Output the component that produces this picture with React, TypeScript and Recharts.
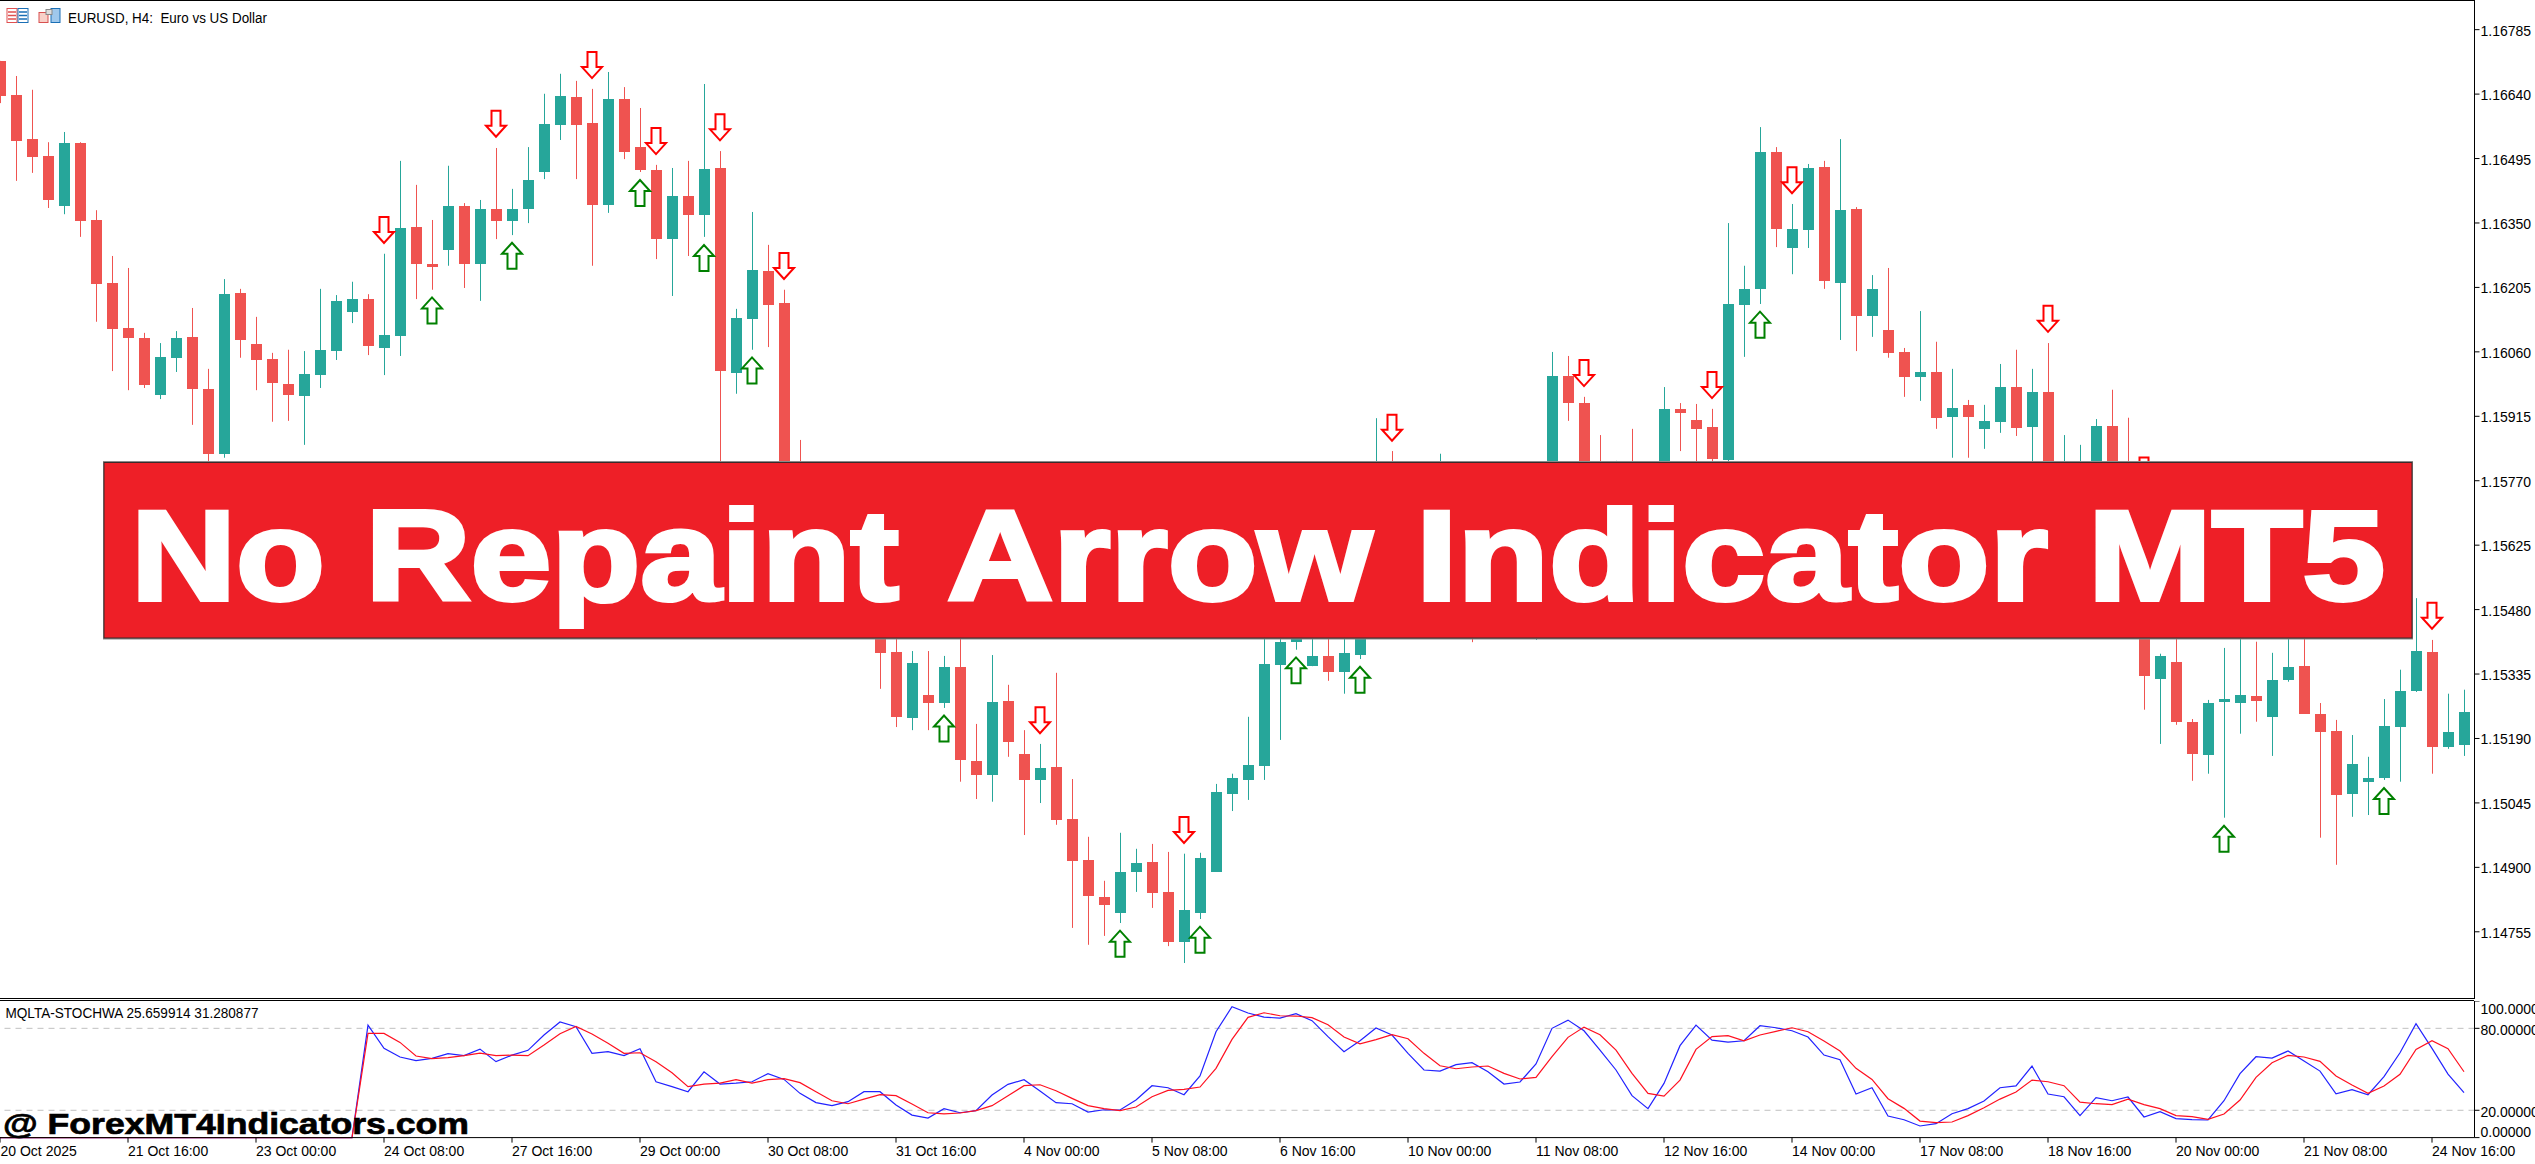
import { ComposedChart, Bar, Line, XAxis, YAxis, ReferenceLine } from "recharts";

const FONT = "'Liberation Sans', Arial, sans-serif";
const UP = "#26A69A";
const DOWN = "#EF5350";

// EURUSD H4 candles (those behind the banner are estimates)
const opens = [
  1.16717, 1.1664, 1.16541, 1.16503, 1.1639, 1.16532, 1.16359, 1.16217, 1.16116, 1.16094,
  1.15965, 1.16049, 1.16096, 1.15979, 1.15833, 1.16195, 1.1608, 1.16046, 1.1599, 1.15963,
  1.1601, 1.16064, 1.16152, 1.16181, 1.16071, 1.16098, 1.16343, 1.1626, 1.16291, 1.1639,
  1.1626, 1.16384, 1.16357, 1.16384, 1.16467, 1.16573, 1.16636, 1.16577, 1.16393, 1.16631,
  1.16523, 1.16472, 1.16316, 1.16413, 1.1637, 1.16476, 1.16015, 1.16136, 1.16244, 1.16172,
  1.15654, 1.1556, 1.1561, 1.1552, 1.1547, 1.155, 1.15387, 1.15239, 1.1529, 1.15272,
  1.15353, 1.15142, 1.1511, 1.15277, 1.15158, 1.15099, 1.15128, 1.15011, 1.14919, 1.14836,
  1.148, 1.14892, 1.14915, 1.14847, 1.14735, 1.148, 1.14892, 1.15068, 1.15099, 1.15131,
  1.15358, 1.1541, 1.15355, 1.15378, 1.15342, 1.1538, 1.1547, 1.157, 1.1563, 1.1556,
  1.156, 1.1565, 1.1564, 1.1552, 1.1559, 1.1565, 1.1548, 1.1562, 1.16008, 1.15947,
  1.1571, 1.1565, 1.1574, 1.1568, 1.1575, 1.15934, 1.15909, 1.15893, 1.15819, 1.16168,
  1.16204, 1.16512, 1.16296, 1.16337, 1.16478, 1.16217, 1.16384, 1.16143, 1.16112, 1.16062,
  1.16006, 1.16017, 1.15916, 1.15943, 1.15889, 1.15904, 1.15983, 1.15893, 1.15972, 1.1568,
  1.1565, 1.1564, 1.15896, 1.1564, 1.1556, 1.15326, 1.15365, 1.1523, 1.15155, 1.15275,
  1.15272, 1.15288, 1.15241, 1.15324, 1.15356, 1.15248, 1.15209, 1.15068, 1.15095, 1.15104,
  1.15218, 1.15299, 1.15387, 1.15173, 1.15178,
];
const highs = [
  1.16717, 1.16683, 1.16652, 1.16534, 1.16557, 1.16534, 1.16381, 1.16278, 1.16251, 1.16105,
  1.16082, 1.16109, 1.16161, 1.16024, 1.16226, 1.16204, 1.16141, 1.1606, 1.16067, 1.16064,
  1.16204, 1.1619, 1.1622, 1.16192, 1.16283, 1.16492, 1.16438, 1.16359, 1.16481, 1.16397,
  1.16404, 1.16521, 1.16429, 1.16523, 1.16643, 1.16688, 1.16672, 1.16654, 1.16692, 1.16658,
  1.16611, 1.16483, 1.16476, 1.16492, 1.16665, 1.16514, 1.16159, 1.16377, 1.16303, 1.16202,
  1.15864, 1.1564, 1.1563, 1.1555, 1.1553, 1.1552, 1.1543, 1.15389, 1.15389, 1.15378,
  1.1545, 1.15225, 1.1538, 1.15313, 1.15211, 1.1518, 1.1534, 1.15101, 1.14971, 1.14872,
  1.1498, 1.14944, 1.14955, 1.14937, 1.14933, 1.14935, 1.1509, 1.15113, 1.15241, 1.1544,
  1.1547, 1.155, 1.1548, 1.1547, 1.1548, 1.1552, 1.15913, 1.15839, 1.1572, 1.157,
  1.15833, 1.157, 1.1572, 1.1565, 1.157, 1.157, 1.1568, 1.16062, 1.16053, 1.15961,
  1.15875, 1.15817, 1.15889, 1.1578, 1.15983, 1.15947, 1.15945, 1.15934, 1.16352, 1.16256,
  1.16568, 1.16523, 1.16395, 1.16485, 1.16492, 1.16541, 1.16388, 1.16235, 1.16251, 1.16071,
  1.16154, 1.16085, 1.16024, 1.15954, 1.15943, 1.16035, 1.16067, 1.16024, 1.16082, 1.15875,
  1.15853, 1.15911, 1.15977, 1.15914, 1.157, 1.15383, 1.1544, 1.15236, 1.15279, 1.15396,
  1.1544, 1.1541, 1.15385, 1.1543, 1.1544, 1.15272, 1.15234, 1.152, 1.15151, 1.15281,
  1.15347, 1.15508, 1.15414, 1.15293, 1.15302,
];
const lows = [
  1.16622, 1.16447, 1.16465, 1.16386, 1.16372, 1.16321, 1.1613, 1.16019, 1.15976, 1.15981,
  1.15956, 1.16017, 1.15898, 1.15804, 1.15824, 1.16049, 1.15976, 1.15905, 1.15907, 1.15853,
  1.15981, 1.16044, 1.16127, 1.16055, 1.1601, 1.16053, 1.16181, 1.16202, 1.16256, 1.16206,
  1.16177, 1.16316, 1.16325, 1.16352, 1.16451, 1.16539, 1.16451, 1.16256, 1.16375, 1.16496,
  1.16467, 1.16271, 1.16188, 1.16278, 1.16321, 1.15782, 1.15968, 1.16067, 1.16073, 1.15616,
  1.1553, 1.1552, 1.1549, 1.1544, 1.1544, 1.15304, 1.15218, 1.15211, 1.15211, 1.15261,
  1.15095, 1.15056, 1.1505, 1.15151, 1.14975, 1.15047, 1.14998, 1.14766, 1.14728, 1.14748,
  1.14777, 1.14847, 1.14811, 1.14725, 1.14687, 1.14786, 1.14892, 1.15029, 1.15054, 1.15099,
  1.15189, 1.15392, 1.15355, 1.15322, 1.15293, 1.15371, 1.1545, 1.1556, 1.155, 1.1552,
  1.1555, 1.1553, 1.15409, 1.1547, 1.1556, 1.1551, 1.15414, 1.1559, 1.15907, 1.1566,
  1.156, 1.1562, 1.1564, 1.1565, 1.157, 1.15839, 1.1579, 1.15814, 1.158, 1.16051,
  1.1617, 1.16298, 1.16237, 1.16296, 1.16204, 1.16089, 1.16064, 1.16096, 1.16049, 1.15961,
  1.15952, 1.15889, 1.15824, 1.15824, 1.15844, 1.1588, 1.15873, 1.1578, 1.157, 1.1564,
  1.1561, 1.156, 1.1559, 1.1551, 1.15257, 1.1518, 1.15223, 1.15097, 1.15113, 1.15014,
  1.15203, 1.1523, 1.15153, 1.1532, 1.15248, 1.14969, 1.14908, 1.15016, 1.1502, 1.15099,
  1.15095, 1.15297, 1.15113, 1.15169, 1.15153,
];
const closes = [
  1.16639, 1.16537, 1.16501, 1.16404, 1.16532, 1.16357, 1.16215, 1.16114, 1.16094, 1.15988,
  1.16051, 1.16094, 1.15979, 1.15833, 1.16192, 1.16089, 1.16044, 1.15992, 1.15965, 1.16012,
  1.16067, 1.16177, 1.16181, 1.16075, 1.161, 1.16341, 1.1626, 1.16253, 1.1639, 1.1626,
  1.16384, 1.16357, 1.16384, 1.16449, 1.16575, 1.16638, 1.16573, 1.16393, 1.16631, 1.16512,
  1.16472, 1.16316, 1.16413, 1.1637, 1.16474, 1.16019, 1.16139, 1.16247, 1.16168, 1.15654,
  1.1556, 1.1561, 1.1552, 1.1547, 1.155, 1.15385, 1.15241, 1.15362, 1.15272, 1.15353,
  1.15144, 1.1511, 1.15275, 1.15185, 1.15099, 1.15126, 1.15009, 1.14917, 1.14838, 1.14818,
  1.14892, 1.14912, 1.14845, 1.14735, 1.14807, 1.14924, 1.15072, 1.15104, 1.15133, 1.1536,
  1.1541, 1.1544, 1.15378, 1.15342, 1.15385, 1.1547, 1.157, 1.1562, 1.1556, 1.1561,
  1.1564, 1.1558, 1.155, 1.1559, 1.1565, 1.1558, 1.1562, 1.16008, 1.15947, 1.157,
  1.1565, 1.1574, 1.1568, 1.1575, 1.15934, 1.15925, 1.15889, 1.15821, 1.1617, 1.16204,
  1.16512, 1.16339, 1.16339, 1.16476, 1.16222, 1.16381, 1.16143, 1.16204, 1.1606, 1.16006,
  1.16017, 1.15914, 1.15936, 1.15916, 1.15907, 1.15983, 1.15891, 1.15972, 1.1576, 1.1577,
  1.1573, 1.15896, 1.1564, 1.1556, 1.15333, 1.15378, 1.1523, 1.15158, 1.15272, 1.15281,
  1.1529, 1.15277, 1.15324, 1.15353, 1.15248, 1.15207, 1.15065, 1.15135, 1.15104, 1.15221,
  1.15299, 1.15389, 1.15173, 1.15207, 1.15252,
];

// [candle index, price of the arrow tip]
const downArrows: [number, number][] = [
  [24, 1.16305], [31, 1.16544], [37, 1.16676], [41, 1.16505], [45, 1.16536], [49, 1.16224],
  [65, 1.15202], [74, 1.14955], [87, 1.1586], [99, 1.15983], [107, 1.15956], [112, 1.16417],
  [128, 1.16105], [134, 1.15764], [152, 1.15437],
];
const upArrows: [number, number][] = [
  [27, 1.16187], [32, 1.1631], [40, 1.16451], [44, 1.16305], [47, 1.16052], [59, 1.15246],
  [70, 1.14762], [75, 1.14771], [81, 1.15377], [85, 1.15356], [110, 1.16155], [139, 1.14998],
  [149, 1.15083],
];

const zeros23 = [0, 0, 0, 0, 0, 0, 0, 0, 0, 0, 0, 0, 0, 0, 0, 0, 0, 0, 0, 0, 0, 0, 0];
const stochBlue = [
  ...zeros23,
  82.4, 65.3, 59.0, 56.3, 58.0, 61.4, 60.0, 64.8, 55.6, 60.4, 63.9, 75.1, 84.6, 81.2, 61.7, 62.9, 60.0,
  65.1, 40.9, 37.3, 33.6, 48.2, 39.2, 39.9, 40.9, 46.8, 42.6, 32.4, 25.6, 23.4, 26.3, 33.6, 33.6, 23.9,
  16.5, 14.3, 21.2, 18.2, 19.7, 31.2, 39.0, 42.4, 34.1, 25.6, 24.8, 18.7, 20.4, 20.2, 27.5, 38.0, 36.5,
  31.4, 45.1, 77.5, 95.8, 91.2, 88.2, 87.5, 90.7, 85.6, 73.9, 62.9, 70.9, 80.2, 75.1, 61.7, 49.5, 48.7,
  53.4, 54.8, 48.2, 39.2, 40.7, 53.9, 80.0, 86.0, 78.2, 64.1, 49.5, 30.7, 21.2, 39.7, 67.3, 82.4, 71.4,
  69.9, 70.9, 81.9, 80.4, 78.2, 73.6, 60.4, 57.0, 31.9, 36.5, 15.8, 13.1, 8.5, 10.2, 17.5, 21.2, 26.8,
  36.5, 37.8, 52.4, 31.9, 29.9, 16.1, 29.2, 27.0, 29.7, 15.1, 19.0, 13.9, 13.1, 12.9, 27.0, 46.8, 59.2,
  58.2, 63.4, 56.0, 48.7, 32.1, 35.1, 31.4, 44.6, 62.1, 83.4, 65.3, 46.5, 32.9,
];
const stochRed = [
  ...zeros23,
  76.3, 76.3, 69.7, 59.7, 57.8, 58.5, 60.0, 61.9, 60.0, 60.4, 60.0, 67.8, 76.0, 81.4, 75.8, 69.0, 61.7,
  62.1, 55.6, 47.5, 37.3, 39.2, 39.9, 42.4, 39.9, 42.4, 43.1, 40.2, 33.6, 27.0, 24.8, 28.2, 31.4, 30.7,
  24.6, 18.2, 17.3, 18.0, 19.7, 23.4, 30.7, 38.0, 38.7, 34.3, 28.7, 23.4, 21.2, 19.7, 22.4, 29.9, 34.6,
  35.3, 37.0, 50.7, 71.9, 88.0, 91.4, 89.2, 89.0, 87.8, 82.6, 73.6, 68.7, 71.7, 75.3, 72.4, 61.7, 52.6,
  50.4, 51.7, 52.4, 47.0, 42.9, 44.1, 59.2, 73.4, 80.9, 75.3, 64.1, 47.0, 32.4, 30.4, 42.1, 64.6, 73.9,
  74.6, 70.9, 75.1, 77.8, 80.4, 77.5, 70.7, 63.4, 50.7, 42.6, 28.5, 21.4, 12.1, 10.9, 11.4, 16.1, 21.9,
  28.2, 33.4, 42.1, 40.9, 38.0, 26.0, 24.8, 24.1, 28.2, 24.1, 21.2, 16.1, 15.3, 13.4, 17.3, 27.5, 44.1,
  54.8, 60.2, 59.0, 55.8, 45.1, 38.5, 32.4, 37.8, 46.3, 64.6, 70.9, 65.1, 48.2,
];

const priceTicks = [
  1.16785, 1.1664, 1.16495, 1.1635, 1.16205, 1.1606, 1.15915, 1.1577, 1.15625, 1.1548, 1.15335, 1.1519,
  1.15045, 1.149, 1.14755,
];
const stochTicks = [100, 80, 20, 0];
const timeTickIndex = [
  0, 8, 16, 24, 32, 40, 48, 56, 64, 72, 80, 88, 96, 104, 112, 120, 128, 136, 144, 152,
];
const timeTickLabels = [
  "20 Oct 2025", "21 Oct 16:00", "23 Oct 00:00", "24 Oct 08:00", "27 Oct 16:00", "29 Oct 00:00",
  "30 Oct 08:00", "31 Oct 16:00", "4 Nov 00:00", "5 Nov 08:00", "6 Nov 16:00", "10 Nov 00:00",
  "11 Nov 08:00", "12 Nov 16:00", "14 Nov 00:00", "17 Nov 08:00", "18 Nov 16:00", "20 Nov 00:00",
  "21 Nov 08:00", "24 Nov 16:00",
];

const chartData = opens.map((open, i) => ({
  index: i,
  open,
  high: highs[i],
  low: lows[i],
  close: closes[i],
  range: [lows[i], highs[i]],
  down: downArrows.find((a) => a[0] === i)?.[1] ?? null,
  up: upArrows.find((a) => a[0] === i)?.[1] ?? null,
  blue: stochBlue[i],
  red: stochRed[i],
}));

function Candle(props: any) {
  const { x, y, width, height, payload } = props;
  const { open, high, low, close } = payload;
  const color = close >= open ? UP : DOWN;
  const k = height / (high - low);
  const mid = x + width / 2;
  const top = Math.round(y + (high - Math.max(open, close)) * k);
  const bottom = Math.round(y + (high - Math.min(open, close)) * k);
  return (
    <g>
      <rect x={mid - 0.5} y={y} width={1} height={height} fill={color} />
      <rect x={x} y={top} width={width} height={Math.max(bottom - top, 2)} fill={color} />
    </g>
  );
}

function DownArrow(props: any) {
  const { cx, cy, index } = props;
  if (cy == null || props.value == null) return <g key={index} />;
  const d = `M${cx - 4.5},${cy - 27} L${cx + 4.5},${cy - 27} L${cx + 4.5},${cy - 12} L${cx + 10},${cy - 12} L${cx},${cy - 1} L${cx - 10},${cy - 12} L${cx - 4.5},${cy - 12} Z`;
  return <path key={index} d={d} fill="#fff" stroke="#ff0000" strokeWidth={2} />;
}

function UpArrow(props: any) {
  const { cx, cy, index } = props;
  if (cy == null || props.value == null) return <g key={index} />;
  const d = `M${cx - 4.5},${cy + 27} L${cx + 4.5},${cy + 27} L${cx + 4.5},${cy + 12} L${cx + 10},${cy + 12} L${cx},${cy + 1} L${cx - 10},${cy + 12} L${cx - 4.5},${cy + 12} Z`;
  return <path key={index} d={d} fill="#fff" stroke="#008000" strokeWidth={2} />;
}

function PriceTick(props: any) {
  const { x, y, payload } = props;
  return (
    <g>
      <line x1={x} x2={x + 5} y1={y - 1} y2={y - 1} stroke="#000" />
      <text x={x + 6} y={y + 5} fontSize={14} fontFamily={FONT} fill="#000">
        {payload.value.toFixed(5)}
      </text>
    </g>
  );
}

function StochTick(props: any) {
  const { x, y, payload } = props;
  const shift = payload.value === 100 ? 7.5 : payload.value === 0 ? -6 : 2;
  return (
    <g>
      <line x1={x} x2={x + 5} y1={y} y2={y} stroke="#000" />
      <text x={x + 6} y={y + shift + 5} fontSize={14} fontFamily={FONT} fill="#000">
        {payload.value.toFixed(5)}
      </text>
    </g>
  );
}

function TimeTick(props: any) {
  const { x, y, payload } = props;
  const pos = timeTickIndex.indexOf(payload.value);
  return (
    <text x={Math.max(x, 8.5)} y={y + 13} fontSize={14} fontFamily={FONT} fill="#000">
      {timeTickLabels[pos]}
    </text>
  );
}

function Overlay() {
  return (
    <svg width={2535} height={1164} style={{ position: "absolute", left: 0, top: 0 }}>
      {/* panel frame */}
      <rect x={0} y={0} width={2474} height={1} fill="#000" />
      <rect x={0} y={998} width={2474} height={1} fill="#000" />
      <rect x={0} y={1000} width={2474} height={1} fill="#000" />

      {/* toolbar icons */}
      <rect x={7} y={8.5} width={10} height={14} fill="#fff" stroke="#e05050" />
      <rect x={18} y={8.5} width={10} height={14} fill="#fff" stroke="#1a6fb5" />
      <path d="M8,12 h8 M8,15.5 h8 M8,19 h8" stroke="#e05050" strokeWidth={1.5} />
      <path d="M19,12 h8 M19,15.5 h8 M19,19 h8" stroke="#1a6fb5" strokeWidth={1.5} />
      <rect x={39} y={12.5} width={9} height={10} fill="#f8d0c8" stroke="#d85050" />
      <rect x={51} y={8.5} width={9} height={14} fill="#9fc8ec" stroke="#1a6fb5" />
      <rect x={46} y={9.5} width={6} height={5} fill="#ddd" stroke="#888" />

      <text x={68} y={23} fontSize={14} fontFamily={FONT} fill="#000" textLength={199} lengthAdjust="spacingAndGlyphs" style={{ whiteSpace: "pre" }}>
        EURUSD, H4:  Euro vs US Dollar
      </text>
      <text x={5.5} y={1018} fontSize={14} fontFamily={FONT} fill="#000" textLength={253} lengthAdjust="spacingAndGlyphs">
        MQLTA-STOCHWA 25.659914 31.280877
      </text>

      {/* banner */}
      <rect x={103} y={461} width={2310} height={178.5} fill="#8a8a8a" />
      <rect x={104} y={462.5} width={2308} height={175.5} fill="#EE1F27" stroke="#3a2a2a" strokeWidth={1} />
      <text y={600} fontSize={128} fontWeight="bold" fontFamily={FONT} fill="#fff" stroke="#fff" strokeWidth={4}>
        <tspan x={131} textLength={768} lengthAdjust="spacingAndGlyphs">No Repaint</tspan>{" "}
        <tspan x={947} textLength={425} lengthAdjust="spacingAndGlyphs">Arrow</tspan>{" "}
        <tspan x={1416} textLength={632} lengthAdjust="spacingAndGlyphs">Indicator</tspan>{" "}
        <tspan x={2088} textLength={297} lengthAdjust="spacingAndGlyphs">MT5</tspan>
      </text>

      {/* watermark */}
      <text x={3} y={1133.5} fontSize={30} fontWeight="bold" fontFamily={FONT} fill="#000" stroke="#000" strokeWidth={0.7} textLength={466} lengthAdjust="spacingAndGlyphs">
        @ ForexMT4Indicators.com
      </text>
    </svg>
  );
}

export default function App() {
  return (
    <div
      style={{
        position: "absolute",
        left: 0,
        top: 0,
        width: 2535,
        height: 1164,
        overflow: "hidden",
        background: "#fff",
      }}
    >
      <div style={{ position: "absolute", left: -8.5, top: 0 }}>
        <ComposedChart width={2543.5} height={999} data={chartData} margin={{ top: 0, right: 0, bottom: 0, left: 0 }}>
          <XAxis dataKey="index" hide scale="band" padding={{ left: 0, right: 2.5 }} />
          <YAxis
            orientation="right"
            type="number"
            width={61}
            domain={[1.14606, 1.16854]}
            ticks={priceTicks}
            interval={0}
            tickLine={false}
            tickSize={0}
            tickMargin={0}
            axisLine={{ stroke: "#000" }}
            tick={<PriceTick />}
          />
          <Bar dataKey="range" barSize={11} shape={<Candle />} isAnimationActive={false} />
          <Line dataKey="down" stroke="none" dot={(p: any) => <DownArrow {...p} />} activeDot={false} isAnimationActive={false} />
          <Line dataKey="up" stroke="none" dot={(p: any) => <UpArrow {...p} />} activeDot={false} isAnimationActive={false} />
        </ComposedChart>
      </div>

      <div style={{ position: "absolute", left: -8.5, top: 1001 }}>
        <ComposedChart width={2543.5} height={163} data={chartData} margin={{ top: 0, right: 0, bottom: 0, left: 0 }}>
          <XAxis
            dataKey="index"
            height={26.4}
            scale="band"
            padding={{ left: 0, right: 2.5 }}
            ticks={timeTickIndex}
            interval={0}
            tickSize={5}
            tickMargin={0}
            axisLine={{ stroke: "#000" }}
            tickLine={{ stroke: "#000" }}
            tick={<TimeTick />}
          />
          <YAxis
            orientation="right"
            type="number"
            width={61}
            domain={[0, 100]}
            ticks={stochTicks}
            interval={0}
            tickLine={false}
            tickSize={0}
            tickMargin={0}
            axisLine={{ stroke: "#000" }}
            tick={<StochTick />}
          />
          <ReferenceLine y={80} stroke="#c0c0c0" strokeDasharray="6 5" />
          <ReferenceLine y={20} stroke="#c0c0c0" strokeDasharray="6 5" />
          <Line dataKey="blue" stroke="#2222ff" strokeWidth={1.2} dot={false} activeDot={false} isAnimationActive={false} />
          <Line dataKey="red" stroke="#ff1020" strokeWidth={1.2} dot={false} activeDot={false} isAnimationActive={false} />
        </ComposedChart>
      </div>

      <Overlay />
    </div>
  );
}
